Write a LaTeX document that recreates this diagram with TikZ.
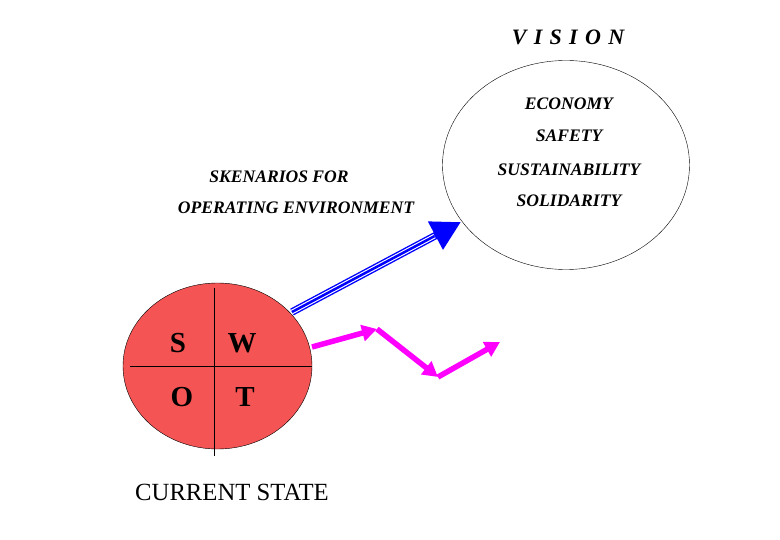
\documentclass[tikz,border=0pt]{standalone}
\usepackage{fontspec}
\setmainfont{Liberation Serif}
\usetikzlibrary{arrows.meta,positioning,shapes.geometric}

\definecolor{zigmag}{rgb}{1,0,1}
\definecolor{swotred}{rgb}{0.96,0.33,0.33}
\tikzset{
  biglabel/.style={font=\bfseries\itshape\fontsize{17.6}{20}\selectfont},
  swotletter/.style={font=\bfseries\fontsize{29}{32}\selectfont},
  zigzag/.style={zigmag,line width=5.5pt,-{Triangle[length=15pt,width=16pt]}},
}

\begin{document}
\begin{tikzpicture}[x=1pt,y=-1pt]
\useasboundingbox (0,0) rectangle (780,540);

% vision
\node[draw,thin,ellipse,minimum width=247pt,minimum height=209pt,inner sep=0pt] (vision) at (566,165) {};
\node[font=\bfseries\itshape\fontsize{22}{24}\selectfont] (visiontitle) at (568,37) {V\,\,I\,\,S\,\,I\,\,O\,\,N};
\node[biglabel] (economy) at (569,104) {ECONOMY};
\node[biglabel] (safety) at (569,136) {SAFETY};
\node[biglabel] (sustain) at (569,170) {SUSTAINABILITY};
\node[biglabel] (solid) at (569,201) {SOLIDARITY};

\node[biglabel] (skenarios) at (279,177) {SKENARIOS FOR};
\node[biglabel] (operating) at (296,208) {OPERATING ENVIRONMENT};

% swot
\fill[swotred,draw=black,thin] (217.5,366) ellipse (94.5pt and 83pt);
\coordinate (swotN) at (214,288);
\coordinate (swotS) at (214,456);
\coordinate (swotW) at (130,366);
\coordinate (swotE) at (312,366);
\draw[thin] (swotN) -- (swotS);
\draw[thin] (swotW) -- (swotE);
\node[swotletter] (s) at (178,343) {S};
\node[swotletter] (w) at (242,343) {W};
\node[swotletter] (o) at (182,397) {O};
\node[swotletter] (t) at (245,397) {T};
\node[font=\fontsize{24.7}{27}\selectfont] (current) at (232,492) {CURRENT STATE};

% blue arrow
\coordinate (bluetail) at (292,312);
\coordinate (bluetip) at (461,222);
\draw[blue,line width=7.5pt,-{Triangle[length=29pt,width=30pt]}] (bluetail) -- (bluetip);
\draw[white,line width=4.7pt,shorten >=30pt] (bluetail) -- (bluetip);
\draw[blue,line width=2.5pt,shorten >=30pt] (bluetail) -- (bluetip);

% magenta path
\coordinate (m0) at (312,347);
\coordinate (m1) at (377,329);
\coordinate (m2) at (438,377);
\coordinate (m3) at (500,342);
\draw[zigzag] (m0) -- (m1);
\draw[zigzag] (m1) -- (m2);
\draw[zigzag] (m2) -- (m3);
\end{tikzpicture}
\end{document}
